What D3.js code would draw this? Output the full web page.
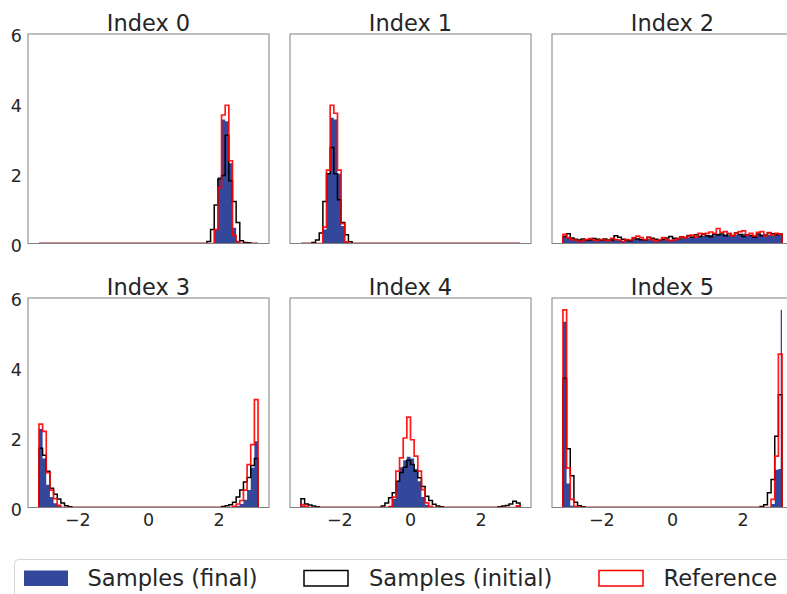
<!DOCTYPE html>
<html>
<head>
<meta charset="utf-8">
<script src="https://cdn.jsdelivr.net/npm/d3@7"></script>
<style>
  body { margin: 0; background: #fff; }
  svg { display: block; }
</style>
</head>
<body>
<script>
// Histogram bins shared by every panel
var binLo = -3.1, binHi = 3.1, binCount = 60;

var panelTitles = ["Index 0", "Index 1", "Index 2", "Index 3", "Index 4", "Index 5"];
var xTicks = [-2, 0, 2];
var yTicks = [0, 2, 4, 6];
var legendLabels = ["Samples (final)", "Samples (initial)", "Reference"];

// Each series: first non-empty bin + density values from there on
var final0 = { start: 48, values: [0.4, 1.9, 3.55, 3.5, 2.3, 0.45, 0.08] };
var initial0 = { start: 46, values: [0.06, 0.4, 1.1, 1.85, 1.95, 3.1, 1.8, 1.2, 0.6, 0.08, 0.03, 0.02] };
var reference0 = { start: 48, values: [0.4, 1.6, 3.68, 3.96, 2.37, 0.23, 0.05] };

var final1 = { start: 6, values: [0.4, 2.0, 3.6, 3.55, 2.0, 0.5, 0.05] };
var initial1 = { start: 3, values: [0.03, 0.1, 0.3, 1.2, 2.0, 2.75, 2.0, 1.25, 0.6, 0.25, 0.05] };
var reference1 = { start: 6, values: [0.47, 2.1, 3.96, 3.73, 2.1, 0.57, 0.05] };

var final2 = { start: 0, values: [0.22, 0.18, 0.12, 0.1, 0.08, 0.1, 0.1, 0.12, 0.11, 0.09, 0.1, 0.11, 0.1, 0.12, 0.13,
  0.11, 0.08, 0.1, 0.1, 0.14, 0.15, 0.13, 0.11, 0.13, 0.12, 0.09, 0.1, 0.13, 0.12, 0.11, 0.12, 0.14, 0.16, 0.15, 0.18,
  0.19, 0.18, 0.22, 0.22, 0.23, 0.24, 0.23, 0.28, 0.25, 0.26, 0.24, 0.22, 0.25, 0.27, 0.28, 0.22, 0.24, 0.21, 0.25,
  0.26, 0.22, 0.25, 0.23, 0.24, 0.25] };
var initial2 = { start: 0, values: [0.2, 0.28, 0.16, 0.12, 0.1, 0.13, 0.09, 0.1, 0.14, 0.12, 0.09, 0.13, 0.1, 0.1, 0.22,
  0.18, 0.12, 0.1, 0.08, 0.16, 0.13, 0.11, 0.1, 0.18, 0.15, 0.12, 0.09, 0.12, 0.16, 0.2, 0.15, 0.14, 0.19, 0.17, 0.23,
  0.18, 0.25, 0.2, 0.27, 0.22, 0.19, 0.26, 0.24, 0.27, 0.22, 0.28, 0.23, 0.3, 0.26, 0.2, 0.25, 0.23, 0.18, 0.27, 0.22,
  0.24, 0.31, 0.28, 0.25, 0.27] };
var reference2 = { start: 0, values: [0.26, 0.17, 0.11, 0.1, 0.05, 0.08, 0.11, 0.14, 0.1, 0.08, 0.11, 0.1, 0.08, 0.15,
  0.11, 0.1, 0.05, 0.11, 0.1, 0.17, 0.21, 0.17, 0.11, 0.17, 0.11, 0.06, 0.1, 0.17, 0.11, 0.08, 0.1, 0.14, 0.19, 0.16,
  0.21, 0.24, 0.19, 0.29, 0.26, 0.29, 0.33, 0.29, 0.43, 0.32, 0.34, 0.29, 0.22, 0.29, 0.34, 0.36, 0.24, 0.29, 0.22,
  0.32, 0.34, 0.21, 0.31, 0.24, 0.29, 0.27] };

var final3 = { start: 0, values: [2.25, 1.4, 0.65, 0.3, 0.12, 0.04, 0, 0, 0, 0, 0, 0, 0, 0, 0, 0, 0, 0, 0, 0, 0, 0, 0,
  0, 0, 0, 0, 0, 0, 0, 0, 0, 0, 0, 0, 0, 0, 0, 0, 0, 0, 0, 0, 0, 0, 0, 0, 0, 0, 0, 0, 0, 0, 0, 0.05, 0.1, 0.22, 0.5,
  1.14, 1.9] };
var initial3 = { start: 0, values: [1.7, 1.5, 1.04, 0.55, 0.38, 0.24, 0.13, 0.05, 0.02, 0, 0, 0, 0, 0, 0, 0, 0, 0, 0,
  0, 0, 0, 0, 0, 0, 0, 0, 0, 0, 0, 0, 0, 0, 0, 0, 0, 0, 0, 0, 0, 0, 0, 0, 0, 0, 0, 0, 0, 0, 0, 0.03, 0.05, 0.08, 0.15,
  0.3, 0.5, 0.73, 0.86, 1.2, 1.4] };
var reference3 = { start: 0, values: [2.39, 2.18, 1.0, 0.5, 0.25, 0.06, 0, 0, 0, 0, 0, 0, 0, 0, 0, 0, 0, 0, 0, 0, 0,
  0, 0, 0, 0, 0, 0, 0, 0, 0, 0, 0, 0, 0, 0, 0, 0, 0, 0, 0, 0, 0, 0, 0, 0, 0, 0, 0, 0, 0, 0, 0, 0, 0.03, 0.1, 0.2, 0.5,
  1.23, 1.8, 3.09] };

var final4 = { start: 0, values: [0.06, 0, 0, 0, 0, 0, 0, 0, 0, 0, 0, 0, 0, 0, 0, 0, 0, 0, 0, 0, 0, 0, 0, 0, 0.05,
  0.25, 0.75, 1.15, 1.35, 1.45, 1.4, 1.1, 0.75, 0.3, 0.08, 0, 0, 0, 0, 0, 0, 0, 0, 0, 0, 0, 0, 0, 0, 0, 0, 0, 0, 0, 0,
  0, 0, 0, 0, 0.05] };
var initial4 = { start: 0, values: [0.25, 0.1, 0.07, 0.04, 0.02, 0, 0, 0, 0, 0, 0, 0, 0, 0, 0, 0, 0, 0, 0, 0, 0, 0,
  0.04, 0.13, 0.28, 0.42, 0.75, 1.0, 1.15, 1.35, 1.23, 1.04, 0.85, 0.6, 0.32, 0.2, 0.09, 0.04, 0.02, 0, 0, 0, 0, 0, 0,
  0, 0, 0, 0, 0, 0, 0, 0, 0, 0.02, 0.04, 0.06, 0.1, 0.18, 0.13] };
var reference4 = { start: 0, values: [0.08, 0.03, 0, 0, 0, 0, 0, 0, 0, 0, 0, 0, 0, 0, 0, 0, 0, 0, 0, 0, 0, 0, 0, 0,
  0.02, 0.3, 1.04, 1.42, 1.99, 2.59, 1.94, 1.47, 1.04, 0.51, 0.13, 0.03, 0, 0, 0, 0, 0, 0, 0, 0, 0, 0, 0, 0, 0, 0, 0,
  0, 0, 0, 0, 0, 0, 0, 0, 0.05] };

var final5 = { start: 0, values: [5.32, 0.69, 0.05, 0, 0, 0, 0, 0, 0, 0, 0, 0, 0, 0, 0, 0, 0, 0, 0, 0, 0, 0, 0, 0, 0,
  0, 0, 0, 0, 0, 0, 0, 0, 0, 0, 0, 0, 0, 0, 0, 0, 0, 0, 0, 0, 0, 0, 0, 0, 0, 0, 0, 0, 0, 0, 0, 0, 0.1, 1.08, 1.1] };
var initial5 = { start: 0, values: [3.7, 1.68, 0.91, 0.15, 0.05, 0.02, 0, 0, 0, 0, 0, 0, 0, 0, 0, 0, 0, 0, 0, 0, 0, 0,
  0, 0, 0, 0, 0, 0, 0, 0, 0, 0, 0, 0, 0, 0, 0, 0, 0, 0, 0, 0, 0, 0, 0, 0, 0, 0, 0, 0, 0, 0, 0, 0, 0.03, 0.08, 0.42,
  0.8, 2.04, 3.23] };
var reference5 = { start: 0, values: [5.66, 1.13, 0.23, 0.03, 0, 0, 0, 0, 0, 0, 0, 0, 0, 0, 0, 0, 0, 0, 0, 0, 0, 0, 0,
  0, 0, 0, 0, 0, 0, 0, 0, 0, 0, 0, 0, 0, 0, 0, 0, 0, 0, 0, 0, 0, 0, 0, 0, 0, 0, 0, 0, 0, 0, 0, 0, 0, 0, 0.23, 1.47, 4.39] };
// narrow spike of the final samples at the right edge of index 5
var finalSpike5 = { x: 3.08, value: 5.66 };

var finals = [final0, final1, final2, final3, final4, final5];
var initials = [initial0, initial1, initial2, initial3, initial4, initial5];
var references = [reference0, reference1, reference2, reference3, reference4, reference5];

// Layout
var W = 787, H = 594;
var colX = [28, 290, 552], rowY = [34, 298];
var panelW = 241, panelH = 209.5;
var textColor = "#262626";
var blue = "#34489b";

var svg = d3.select("body").append("svg")
    .attr("width", W)
    .attr("height", H)
    .style("font-family", "'DejaVu Sans', sans-serif");

var binWidth = (binHi - binLo) / binCount;
var edges = d3.range(binCount + 1).map(function (i) { return binLo + i * binWidth; });

// turn a {start, values} series into a full array of bin heights
function fullBins(s) {
    var out = d3.range(binCount).map(function () { return 0; });
    s.values.forEach(function (v, i) { if (s.start + i < binCount) out[s.start + i] = v; });
    return out;
}

var pad = (binHi - binLo) * 0.05;
var x = d3.scaleLinear().domain([binLo - pad, binHi + pad]).range([0, panelW]);
var y = d3.scaleLinear().domain([0, 6]).range([panelH, 0]);

// outline of a step histogram, matplotlib style
function stepPoints(h) {
    var pts = [[edges[0], 0]];
    h.forEach(function (v, i) {
        pts.push([edges[i], v]);
        pts.push([edges[i + 1], v]);
    });
    pts.push([edges[binCount], 0]);
    return pts;
}
var line = d3.line()
    .x(function (d) { return x(d[0]); })
    .y(function (d) { return y(d[1]); });
var area = d3.area()
    .x(function (d) { return x(d[0]); })
    .y0(y(0))
    .y1(function (d) { return y(d[1]); });

svg.append("defs").append("clipPath")
    .attr("id", "plotclip")
    .append("rect")
    .attr("x", -2).attr("y", -2)
    .attr("width", panelW + 4).attr("height", panelH + 2);

panelTitles.forEach(function (title, p) {
    var col = p % 3, row = Math.floor(p / 3);
    var g = svg.append("g")
        .attr("transform", "translate(" + colX[col] + "," + rowY[row] + ")");
    var plot = g.append("g").attr("clip-path", "url(#plotclip)");

    // filled final samples
    plot.append("path")
        .attr("d", area(stepPoints(fullBins(finals[p]))))
        .attr("fill", blue);

    if (p === 5) {
        plot.append("line")
            .attr("x1", x(finalSpike5.x)).attr("x2", x(finalSpike5.x))
            .attr("y1", y(0)).attr("y2", y(finalSpike5.value))
            .attr("stroke", blue)
            .attr("stroke-width", 1.3);
    }

    plot.append("path")
        .attr("d", line(stepPoints(fullBins(initials[p]))))
        .attr("fill", "none")
        .attr("stroke", "#000")
        .attr("stroke-width", 1.5);

    plot.append("path")
        .attr("d", line(stepPoints(fullBins(references[p]))))
        .attr("fill", "none")
        .attr("stroke", "#ff0000")
        .attr("stroke-opacity", 0.9)
        .attr("stroke-width", 1.7);

    // frame
    g.append("rect")
        .attr("x", 0).attr("y", 0)
        .attr("width", panelW).attr("height", panelH)
        .attr("fill", "none")
        .attr("stroke", "#808080")
        .attr("stroke-width", 1);

    g.append("text")
        .attr("x", panelW / 2)
        .attr("y", -3.5)
        .attr("text-anchor", "middle")
        .attr("font-size", "22.5px")
        .attr("fill", textColor)
        .text(title);

    if (col === 0) {
        g.selectAll("text.ytick")
            .data(yTicks)
            .enter().append("text")
            .attr("class", "ytick")
            .attr("x", -6)
            .attr("y", function (d) { return y(d) + 2; })
            .attr("dy", "0.35em")
            .attr("text-anchor", "end")
            .attr("font-size", "17.5px")
            .attr("fill", textColor)
            .text(function (d) { return d; });
    }
    if (row === 1) {
        g.selectAll("text.xtick")
            .data(xTicks)
            .enter().append("text")
            .attr("class", "xtick")
            .attr("x", function (d) { return x(d); })
            .attr("y", panelH + 18)
            .attr("text-anchor", "middle")
            .attr("font-size", "17.5px")
            .attr("fill", textColor)
            .text(function (d) { return d < 0 ? "\u2212" + Math.abs(d) : d; });
    }
});

// Legend along the bottom edge
var legend = svg.append("g");
legend.append("rect")
    .attr("x", 14.5).attr("y", 559.5)
    .attr("width", 800).attr("height", 60)
    .attr("rx", 4)
    .attr("fill", "#fff")
    .attr("stroke", "#d6d6d6");

var legendX = [24, 304, 599];
var legendTextX = [87.5, 369, 663.5];
legendLabels.forEach(function (label, i) {
    var r = legend.append("rect")
        .attr("x", legendX[i]).attr("y", 570.5)
        .attr("width", 44).attr("height", 15.5);
    if (i === 0) r.attr("fill", blue);
    else r.attr("fill", "none").attr("stroke", i === 1 ? "#000" : "#ff0000").attr("stroke-width", 1.5);
    legend.append("text")
        .attr("x", legendTextX[i])
        .attr("y", 586)
        .attr("font-size", "22.6px")
        .attr("fill", textColor)
        .text(label);
});
</script>
</body>
</html>
